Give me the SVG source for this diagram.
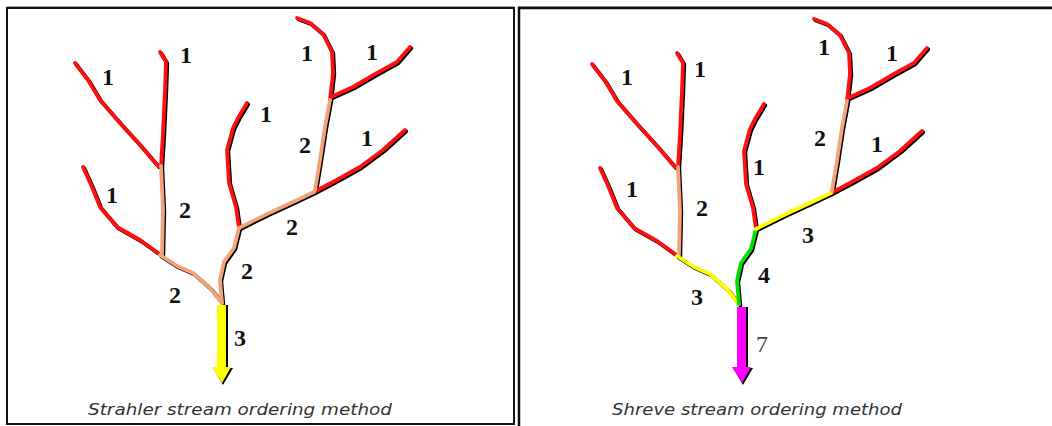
<svg xmlns="http://www.w3.org/2000/svg" xmlns:xlink="http://www.w3.org/1999/xlink" width="1052" height="426" viewBox="0 0 1052 426">
<style>
.st{fill:none;stroke-width:3.8;stroke-linecap:round;stroke-linejoin:round}
.sh{stroke:#000}
.r{stroke:#ff1010}
.o{stroke:#f4a27a}
.y{stroke:#ffff00}
.g{stroke:#00e000}
.lbl{font-family:"Liberation Serif","Times New Roman",serif;font-weight:bold;font-size:24px;fill:#111;text-anchor:middle}
.cap{font-family:"DejaVu Sans",Verdana,sans-serif;font-style:italic;font-size:15.5px;fill:#333;text-anchor:middle}
.frame{fill:none;stroke:#111;stroke-width:2}
.hl{stroke:#aaa;stroke-width:1}
</style>
<defs>
<path id="pA" d="M75,63 L88,80 L100,100 L120,123 L140,145 L158,166"/>
<path id="pB" d="M160,52 L166,62 L165,90 L163,133 L161,166"/>
<path id="pO1" d="M161,166 L163,210 L162,254"/>
<path id="pC" d="M83,167 L92,187 L100,207 L117,227 L140,240 L158,253"/>
<path id="pO2" d="M160,255 L177,266 L193,273 L210,288 L222,303"/>
<path id="pD" d="M247,103 L238,118 L233,128 L227,150 L229,183 L236,207 L239,228"/>
<path id="pO3" d="M239,228 L234,248 L224,262 L220,280 L222,303"/>
<path id="pO4" d="M239,228 L267,214 L293,202 L314,192"/>
<path id="pE" d="M314,192 L333,182 L360,167 L383,150 L405,130"/>
<path id="pO5" d="M315,190 L320,160 L325,127 L330,100"/>
<path id="pF" d="M330,100 L333,73 L332,52 L323,34 L310,23 L297,18"/>
<path id="pG" d="M331,97 L353,87 L377,73 L397,62 L410,47"/>
</defs>
<rect width="1052" height="426" fill="#fff"/>
<g id="frames">
<line class="hl" x1="7" y1="6.5" x2="514" y2="6.5"/>
<rect class="frame" x="7" y="8" width="507" height="416"/>
<line class="hl" x1="518" y1="6.5" x2="1052" y2="6.5"/>
<path class="frame" d="M519,426 V8 H1052" style="stroke-width:2.5"/>
</g>
<g id="strahler">
<g id="strahler-streams" class="st">
<g class="sh" transform="translate(1.3,1.3)">
<use xlink:href="#pA"/><use xlink:href="#pB"/><use xlink:href="#pO1"/><use xlink:href="#pC"/><use xlink:href="#pO2"/><use xlink:href="#pD"/><use xlink:href="#pO3"/><use xlink:href="#pO4"/><use xlink:href="#pE"/><use xlink:href="#pO5"/><use xlink:href="#pF"/><use xlink:href="#pG"/>
</g>
<use class="r" xlink:href="#pA"/><use class="r" xlink:href="#pB"/><use class="r" xlink:href="#pC"/><use class="r" xlink:href="#pD"/><use class="r" xlink:href="#pE"/><use class="r" xlink:href="#pF"/><use class="r" xlink:href="#pG"/>
<use class="o" xlink:href="#pO1"/><use class="o" xlink:href="#pO2"/><use class="o" xlink:href="#pO3"/><use class="o" xlink:href="#pO4"/><use class="o" xlink:href="#pO5"/>
</g>
<g id="strahler-arrow">
<path d="M219,305 H228 V368 H233 L223,385 L213,368 H219 Z" fill="#000"/>
<path d="M217,305 H226 V367 H231 L222,383 L212,367 H217 Z" fill="#ffff00"/>
</g>
<g id="strahler-labels" class="lbl">
<text x="108" y="85">1</text>
<text x="186" y="63">1</text>
<text x="307" y="61">1</text>
<text x="372" y="60">1</text>
<text x="266" y="122">1</text>
<text x="305" y="153">2</text>
<text x="367" y="146">1</text>
<text x="112" y="203">1</text>
<text x="185" y="218">2</text>
<text x="292" y="235">2</text>
<text x="247" y="279">2</text>
<text x="175" y="303">2</text>
<text x="240" y="346">3</text>
</g>
<text class="cap" x="240" y="415" textLength="304" lengthAdjust="spacingAndGlyphs">Strahler stream ordering method</text>
</g>
<g id="shreve">
<g id="shreve-streams" class="st" transform="translate(517,1)">
<g class="sh" transform="translate(1.3,1.3)">
<use xlink:href="#pA"/><use xlink:href="#pB"/><use xlink:href="#pO1"/><use xlink:href="#pC"/><use xlink:href="#pO2"/><use xlink:href="#pD"/><use xlink:href="#pO3"/><use xlink:href="#pO4"/><use xlink:href="#pE"/><use xlink:href="#pO5"/><use xlink:href="#pF"/><use xlink:href="#pG"/>
</g>
<use class="r" xlink:href="#pA"/><use class="r" xlink:href="#pB"/><use class="r" xlink:href="#pC"/><use class="r" xlink:href="#pD"/><use class="r" xlink:href="#pE"/><use class="r" xlink:href="#pF"/><use class="r" xlink:href="#pG"/>
<use class="o" xlink:href="#pO1"/><use class="y" xlink:href="#pO2"/><use class="g" xlink:href="#pO3"/><use class="y" xlink:href="#pO4"/><use class="o" xlink:href="#pO5"/>
</g>
<g id="shreve-arrow">
<path d="M739,307 H748 V368 H753 L743,385 L733,368 H739 Z" fill="#000"/>
<path d="M737,307 H746 V367 H751 L742,383 L732,367 H737 Z" fill="#ff00ff"/>
</g>
<g id="shreve-labels" class="lbl">
<text x="627" y="85">1</text>
<text x="700" y="77">1</text>
<text x="824" y="55">1</text>
<text x="892" y="61">1</text>
<text x="820" y="146">2</text>
<text x="877" y="152">1</text>
<text x="759" y="175">1</text>
<text x="632" y="197">1</text>
<text x="702" y="216">2</text>
<text x="808" y="243">3</text>
<text x="764" y="283">4</text>
<text x="697" y="305">3</text>
<text x="762" y="352" style="font-weight:normal;fill:#444">7</text>
</g>
<text class="cap" x="757" y="415" textLength="290" lengthAdjust="spacingAndGlyphs">Shreve stream ordering method</text>
</g>
</svg>
